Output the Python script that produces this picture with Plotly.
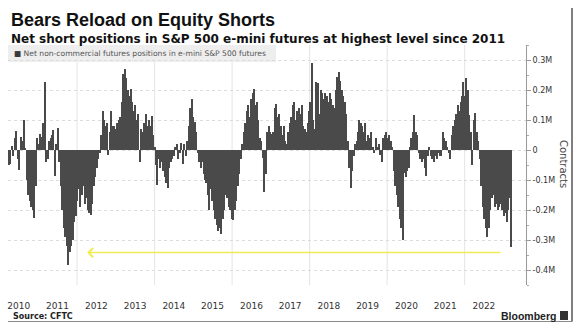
import pandas as pd
import plotly.graph_objects as go

# Net non-commercial futures positions (thousands of contracts), bi-weekly readings
v2010 = [-50, -45, 15, -20, 40, 65, -30, -65, 45, 30, 100, 5, -100, -150, -170, -190, -200, -225, -120]
v2011 = [40, 20, 55, 45, 90, 228, -40, -30, 30, 40, 50, 67, -85, 20, 72, -40, -120, -200, -260, -290, -320, -383, -340, -320, -300, -240]
v2012 = [-220, -170, -130, -190, -150, -120, -180, -160, -200, -210, -217, -180, -120, -90, -60, -30, -10, 50, 130, 100, 80, 90, -15, 60, 130, 80]
v2013 = [80, 70, 90, 100, 110, 160, 255, 270, 240, 200, 180, 205, 160, 130, 150, 100, 120, -40, 70, 60, 90, 120, 80, 100, 80, 115]
v2014 = [50, 10, -50, -117, -30, -60, -40, -70, -90, -110, -128, -60, -40, -30, -20, 10, 20, -30, -10, 25, -45, 20, -20, 30, 80, 140]
v2015 = [170, 110, 95, 60, -10, -40, -60, -40, -80, -100, -110, -150, -200, -130, -170, -200, -230, -250, -270, -260, -280, -230, -200, -150, -160, -190]
v2016 = [-200, -230, -233, -200, -170, -120, -80, -30, 20, 60, 90, 130, 150, 110, 170, 190, 205, 150, 160, 100, 40, 30, -25, -139, -80, 60]
v2017 = [80, 60, 55, 60, 140, 155, 110, 120, 80, 50, 80, 30, 20, 60, 90, 110, 150, 160, 100, 130, 140, 120, 150, 80, 70, 60]
v2018 = [90, 130, 160, 289, 100, 70, 228, 222, 120, 200, 190, 170, 190, 180, 160, 190, 170, 150, 140, 200, 244, 261, 230, 200, 180, 160]
v2019 = [120, 30, -60, -128, -70, -20, 20, 30, 60, 100, 90, 80, 60, 90, 30, 50, 40, 60, 10, -10, 40, 10, 20, -15, -40, 40]
v2020 = [50, 60, 40, 50, 30, 10, -70, -120, -150, -190, -230, -260, -300, -75, -90, -70, -60, 10, 40, 60, 117, 60, 50, -10, -30, -40]
v2021 = [-30, -60, -85, -20, 10, -20, -30, -40, -20, -30, -10, -20, -20, 60, 40, 30, 10, -10, -30, 50, 80, 100, 120, 150, 130, 160]
v2022 = [180, 228, 180, 239, 200, 117, 60, -50, 100, 122, 60, 30, -30, -120, -190, -230, -261, -289, -260, -200, -160, -150, -190, -180, -200, -190]
v2023 = [-180, -200, -220, -210, -240, -200, -160, -322]

FIRST_DATE = "2010-04-01"
STEP_DAYS = 14

year_labels = [str(y) for y in range(2010, 2023)]
label_dates = [f"{y}-07-01" for y in range(2010, 2023)]
grid_years = [f"{y}-01-01" for y in range(2012, 2023, 2)]

ytick_vals = [-400000, -300000, -200000, -100000, 0, 100000, 200000, 300000]
ytick_text = ["-0.4M", "-0.3M", "-0.2M", "-0.1M", "0", "0.1M", "0.2M", "0.3M"]

ARROW_TAIL = "2022-12-18"
ARROW_HEAD = "2012-04-04"
ARROW_LEVEL = -342000

values_k = (v2010 + v2011 + v2012 + v2013 + v2014 + v2015 + v2016 + v2017
            + v2018 + v2019 + v2020 + v2021 + v2022 + v2023)
values = [v * 1000 for v in values_k]
dates = pd.date_range(FIRST_DATE, periods=len(values), freq=f"{STEP_DAYS}D")

W, H = 579, 333
L, R, T, B = 8, 53, 45, 48
PW, PH = W - L - R, H - T - B


def px(x):
    return (x - L) / PW


def py(y):
    return (H - B - y) / PH


fig = go.Figure()
fig.add_trace(go.Bar(
    x=dates, y=values,
    width=STEP_DAYS * 24 * 3600 * 1000,
    marker=dict(color="#4a4a4a", line=dict(width=0)),
    showlegend=False,
))

shapes = []
for g in grid_years:
    shapes.append(dict(type="line", xref="x", yref="paper", x0=g, x1=g, y0=0, y1=1,
                       line=dict(color="#e4e4e4", width=1), layer="below"))
# legend box
shapes.append(dict(type="rect", xref="paper", yref="paper", x0=0, x1=px(276),
                   y0=py(62), y1=py(45), fillcolor="#eeeeee", line=dict(width=0), layer="below"))
# bottom rule and right border
shapes.append(dict(type="line", xref="paper", yref="paper", x0=0, x1=px(572),
                   y0=py(321.5), y1=py(321.5), line=dict(color="#8a8a8a", width=1)))
shapes.append(dict(type="line", xref="paper", yref="paper", x0=px(572), x1=px(572),
                   y0=py(321.5), y1=py(8), line=dict(color="#555555", width=1.5)))
# bloomberg icon
shapes.append(dict(type="rect", xref="paper", yref="paper", x0=px(560), x1=px(568),
                   y0=py(320), y1=py(311), fillcolor="#333333", line=dict(width=0)))

annotations = [
    dict(text="<b>Bears Reload on Equity Shorts</b>", xref="paper", yref="paper",
         x=px(9), y=py(19.5), xanchor="left", yanchor="middle", showarrow=False,
         font=dict(family="Liberation Sans", size=18, color="#111111")),
    dict(text="<b>Net short positions in S&P 500 e-mini futures at highest level since 2011</b>",
         xref="paper", yref="paper", x=px(9), y=py(39.5), xanchor="left", yanchor="middle",
         showarrow=False, font=dict(family="DejaVu Sans", size=12, color="#111111")),
    dict(text="<span style='color:#3a3a3a'>■</span> Net non-commercial futures positions in e-mini S&P 500 futures",
         xref="paper", yref="paper", x=px(12), y=py(54), xanchor="left", yanchor="middle",
         showarrow=False, font=dict(family="DejaVu Sans", size=7.6, color="#555555")),
    dict(text="Contracts", xref="paper", yref="paper", x=px(564), y=py(164), textangle=90,
         xanchor="center", yanchor="middle", showarrow=False,
         font=dict(family="DejaVu Sans", size=10, color="#444444")),
    dict(text="<b>Source: CFTC</b>", xref="paper", yref="paper", x=px(11), y=py(316.5),
         xanchor="left", yanchor="middle", showarrow=False,
         font=dict(family="DejaVu Sans", size=8, color="#222222")),
    dict(text="<b>Bloomberg</b>", xref="paper", yref="paper", x=px(558), y=py(315.5),
         xanchor="right", yanchor="middle", showarrow=False,
         font=dict(family="Liberation Sans", size=10.5, color="#222222")),
    dict(text="", x=ARROW_HEAD, y=ARROW_LEVEL, ax=ARROW_TAIL, ay=ARROW_LEVEL,
         xref="x", yref="y", axref="x", ayref="y", showarrow=True,
         arrowhead=4, arrowsize=1.2, arrowwidth=1.5, arrowcolor="#f0ec55", standoff=0),
]

fig.update_layout(
    width=W, height=H,
    margin=dict(l=L, r=R, t=T, b=B),
    paper_bgcolor="white", plot_bgcolor="white",
    bargap=0,
    shapes=shapes,
    annotations=annotations,
    xaxis=dict(
        type="date", range=["2010-03-21", "2023-08-02"],
        tickmode="array", tickvals=label_dates, ticktext=year_labels,
        showgrid=False, zeroline=False, showline=False,
        ticks="outside", ticklen=12, tickcolor="rgba(0,0,0,0)",
        tickfont=dict(family="DejaVu Sans", size=9, color="#333333"),
    ),
    yaxis=dict(
        side="right", range=[-450000, 350000],
        tickmode="array", tickvals=ytick_vals, ticktext=ytick_text,
        showgrid=True, gridcolor="#dcdcdc", griddash="dot", gridwidth=1,
        zeroline=False, showline=True, linecolor="#999999", linewidth=1,
        ticks="outside", ticklen=4, tickcolor="#999999",
        minor=dict(ticks="outside", ticklen=2, tickcolor="#aaaaaa", tick0=0, dtick=50000, showgrid=False),
        tickfont=dict(family="DejaVu Sans", size=8, color="#333333"),
    ),
)

fig.write_html("out.html")
